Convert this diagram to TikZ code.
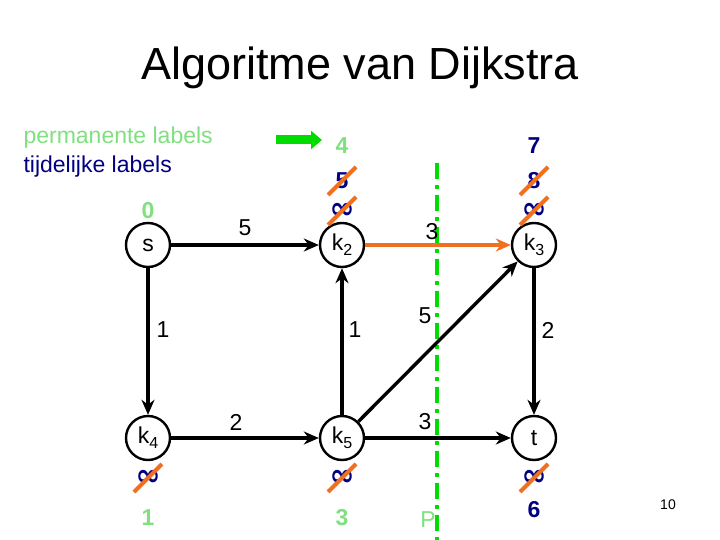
\documentclass[tikz,border=0pt]{standalone}
\usepackage{fontspec}
\setmainfont{Liberation Sans}
\newfontfamily\infont{DejaVu Sans}
\usetikzlibrary{arrows.meta}
\definecolor{perm}{RGB}{128,224,128}
\definecolor{temp}{RGB}{0,0,128}
\definecolor{strk}{RGB}{240,112,32}
\definecolor{lime}{RGB}{0,220,0}
\tikzset{
 vert/.style={circle,draw,line width=2.4pt,minimum size=44pt,inner sep=0pt,font=\fontsize{23}{23}\selectfont},
 edge/.style={line width=3.4pt,-{Stealth[length=15pt,width=13pt]}},
 lab/.style={font=\fontsize{23}{23}\selectfont},
 pl/.style={lab,text=perm,font=\fontsize{23}{23}\selectfont\bfseries},
 tl/.style={lab,text=temp,font=\fontsize{23}{23}\selectfont\bfseries},
 strike/.style={draw=strk,line width=4pt}
}
\newcommand{\strikeat}[1]{\draw[strike] (#1) ++(-14,14) -- ++(28,-28);}
\newcommand{\sbs}[1]{\raisebox{-5pt}{\fontsize{16}{16}\selectfont #1}}
\newcommand{\infy}{{\infont\fontsize{30}{30}\selectfont\bfseries ∞}}
\begin{document}
\begin{tikzpicture}[x=1pt,y=-1pt]
\useasboundingbox (0,0) rectangle (720,540);
\node[font=\fontsize{45}{45}\selectfont] (title) at (360,68) {Algoritme van Dijkstra};
\node[lab,text=perm,anchor=west] (lp) at (20,138) {permanente labels};
\node[lab,text=temp,anchor=west] (lt) at (20,167) {tijdelijke labels};
\coordinate (ga) at (276,140); \coordinate (gb) at (322,140);
\draw[line width=9pt,lime,-{Triangle[length=11pt,width=18pt]}] (ga) -- (gb);
\node[vert] (s) at (148,245) {s};
\node[vert] (k2) at (342,245) {k\sbs{2}};
\node[vert] (k3) at (534,245) {k\sbs{3}};
\node[vert] (k4) at (148,438) {k\sbs{4}};
\node[vert] (k5) at (342,438) {k\sbs{5}};
\node[vert] (t) at (534,438) {t};
\coordinate (pa) at (437,163); \coordinate (pb) at (437,540);
\draw[lime,line width=4pt,dash pattern=on 16pt off 6pt on 4pt off 6pt] (pa) -- (pb);
\draw[edge] (s) -- node[lab,above=4pt] {5} (k2);
\draw[edge,strk] (k2) -- (k3);
\node[lab] (e3) at (432,232) {3};
\draw[edge] (s) -- (k4);
\node[lab] (e1a) at (163,330) {1};
\draw[edge] (k5) -- (k2);
\node[lab] (e1b) at (355,330) {1};
\draw[edge] (k5) -- (k3);
\node[lab] (e5) at (425,316) {5};
\draw[edge] (k3) -- (t);
\node[lab] (e2a) at (548,330) {2};
\draw[edge] (k4) -- (k5);
\node[lab] (e2b) at (236,422) {2};
\draw[edge] (k5) -- (t);
\node[lab] (e3b) at (425,422) {3};
% labels
\node[pl] (ls) at (148,211) {0};
\node[pl] (a4) at (342,146) {4};
\node[tl] (a5) at (342,181) {5};
\node[tl] (ai) at (342,211) {\infy};
\strikeat{a5} \strikeat{ai}
\node[tl] (b7) at (534,146) {7};
\node[tl] (b8) at (534,181) {8};
\node[tl] (bi) at (534,211) {\infy};
\strikeat{b8} \strikeat{bi}
\node[tl] (ci) at (148,478) {\infy};
\node[pl] (c1) at (148,518) {1};
\strikeat{ci}
\node[tl] (di) at (342,478) {\infy};
\node[pl] (d3) at (342,518) {3};
\strikeat{di}
\node[tl] (fi) at (534,478) {\infy};
\node[tl] (f6) at (534,510) {6};
\strikeat{fi}
\node[lab,text=perm] (P) at (428,520) {P};
\node[font=\fontsize{14}{14}\selectfont] (pg) at (668,505) {10};
\end{tikzpicture}
\end{document}
